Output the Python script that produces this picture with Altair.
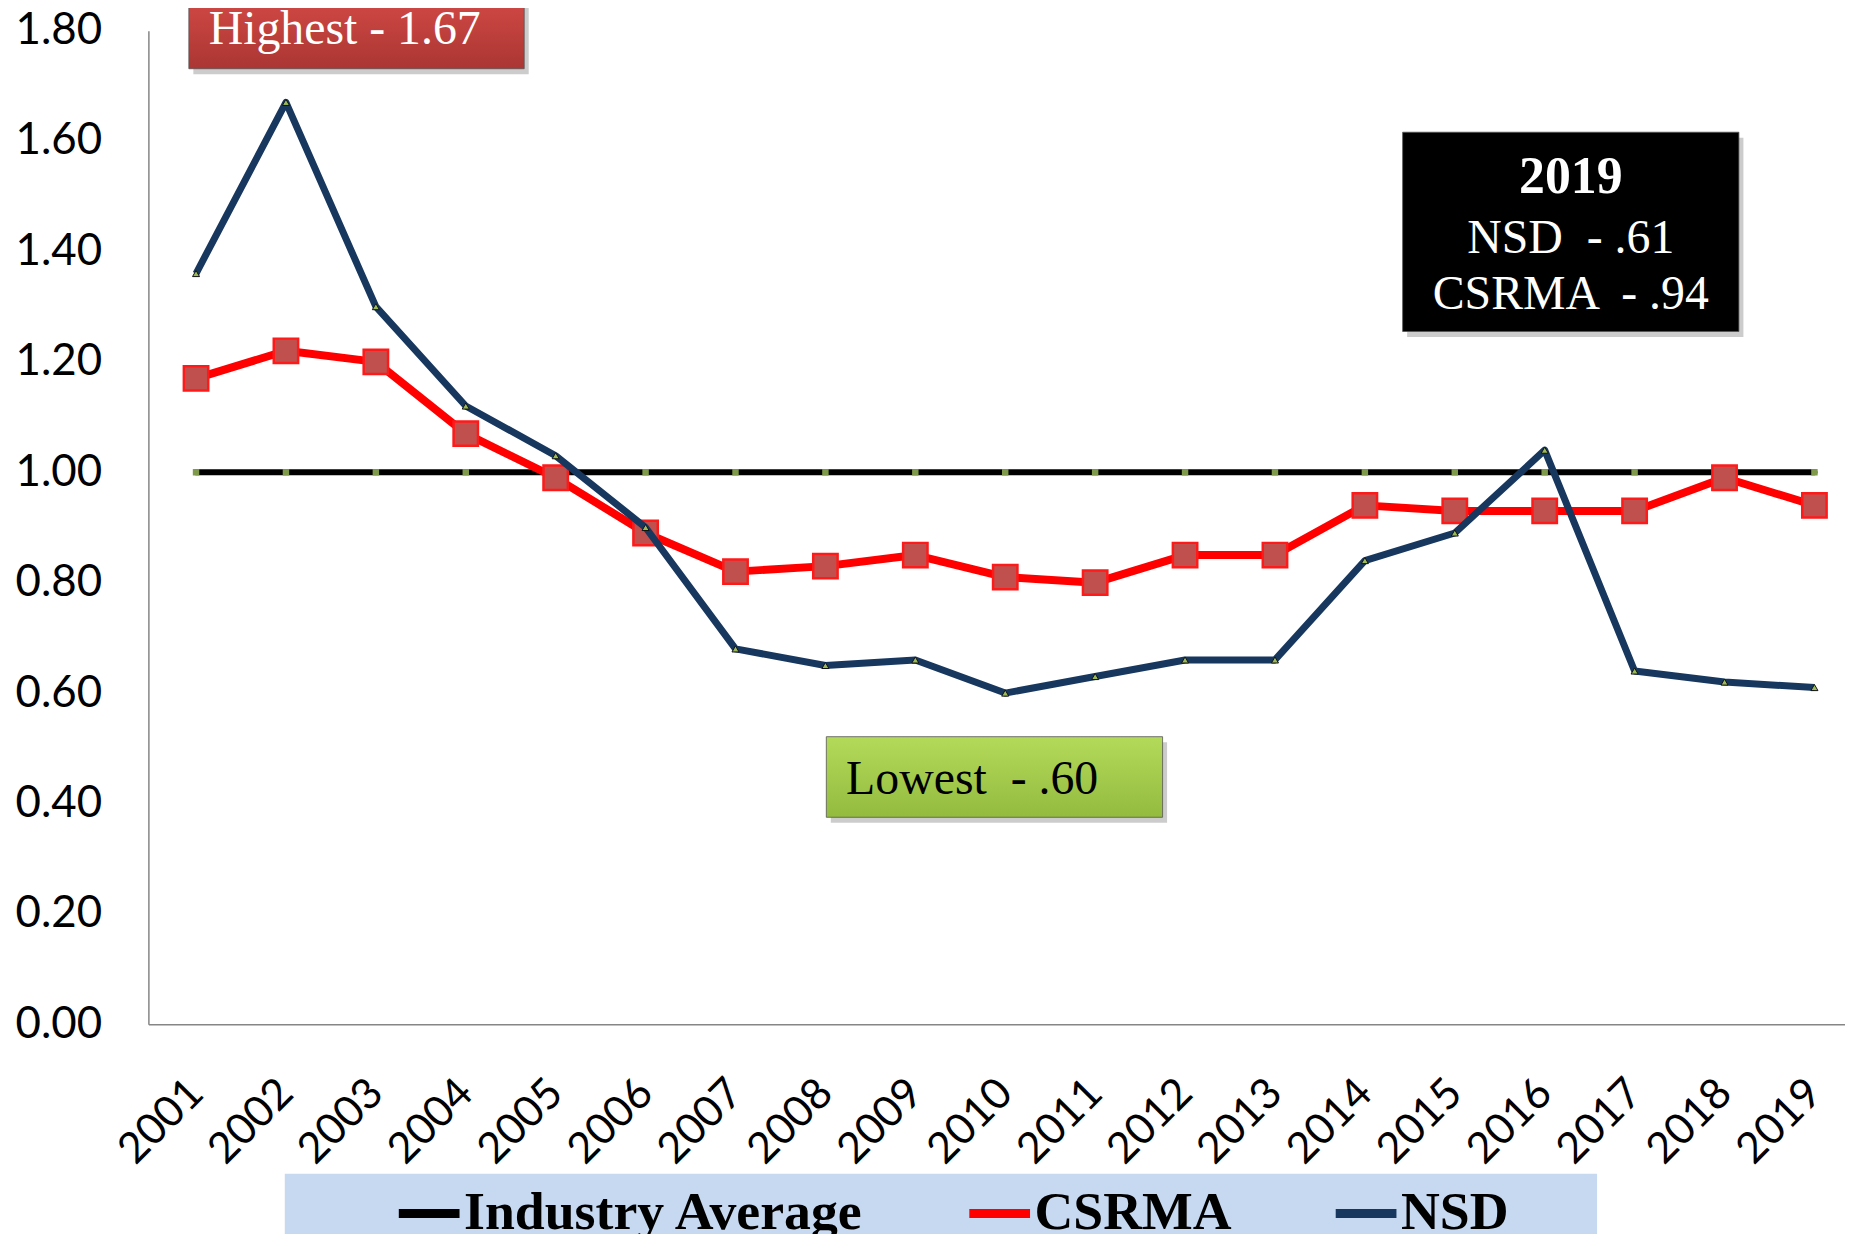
import altair as alt
import pandas as pd

# ---------------- data ----------------
years = [2001, 2002, 2003, 2004, 2005, 2006, 2007, 2008, 2009, 2010,
         2011, 2012, 2013, 2014, 2015, 2016, 2017, 2018, 2019]
industry_avg = [1.00, 1.00, 1.00, 1.00, 1.00, 1.00, 1.00, 1.00, 1.00, 1.00,
                1.00, 1.00, 1.00, 1.00, 1.00, 1.00, 1.00, 1.00, 1.00]
csrma = [1.17, 1.22, 1.20, 1.07, 0.99, 0.89, 0.82, 0.83, 0.85, 0.81,
         0.80, 0.85, 0.85, 0.94, 0.93, 0.93, 0.93, 0.99, 0.94]
nsd = [1.36, 1.67, 1.30, 1.12, 1.03, 0.90, 0.68, 0.65, 0.66, 0.60,
       0.63, 0.66, 0.66, 0.84, 0.89, 1.04, 0.64, 0.62, 0.61]
series_names = ["Industry Average", "CSRMA", "NSD"]
y_ticks = [0.0, 0.2, 0.4, 0.6, 0.8, 1.0, 1.2, 1.4, 1.6, 1.8]

highest_text = ["Highest - 1.67"]
lowest_text = ["Lowest \u00a0- .60"]
box_title = ["2019"]
box_lines = ["NSD \u00a0- .61", "CSRMA \u00a0- .94"]

# ---------------- styles ----------------
series_colors = ["#000000", "#ff0000", "#17375e"]
axis_font = "Lato"
serif = "Liberation Serif"

rows = []
for name, vals in zip(series_names, [industry_avg, csrma, nsd]):
    for yr, v in zip(years, vals):
        rows.append({"year": yr, "value": v, "series": name})
df = pd.DataFrame(rows)

x_enc = alt.X(
    "year:Q",
    scale=alt.Scale(domain=[2000.47, 2019.34], nice=False, zero=False),
    axis=alt.Axis(values=years, format="d", labelAngle=-45, labelAlign="right",
                  labelBaseline="middle", labelFont=axis_font, labelFontSize=43,
                  labelColor="black", labelPadding=62, ticks=False, grid=False,
                  domainColor="#868686", domainWidth=1.5, title=None,
                  labelFlush=False, labelOverlap=False),
)
y_enc = alt.Y(
    "value:Q",
    scale=alt.Scale(domain=[0, 1.8], nice=False, zero=True),
    axis=alt.Axis(values=y_ticks, format=".2f", labelFont=axis_font, labelFontSize=44,
                  labelColor="black", labelPadding=47, ticks=False, grid=False,
                  domainColor="#868686", domainWidth=1.5, title=None,
                  labelFlush=False, labelOverlap=False),
)
legend = alt.Legend(
    orient="none", legendX=247, legendY=1153, direction="horizontal", title=None,
    symbolType="stroke", symbolSize=3721, symbolStrokeWidth=9,
    labelFont=serif, labelFontWeight="bold", labelFontSize=54, labelColor="black",
    labelLimit=900, labelOffset=0, columnPadding=86, padding=0,
)
color_enc = alt.Color("series:N", scale=alt.Scale(domain=series_names, range=series_colors),
                      legend=legend)


def series_chart(name):
    return alt.Chart(df).transform_filter(alt.datum.series == name)


legend_bg = alt.Chart(pd.DataFrame({"k": [0]})).mark_rect(fill="#c6d9f0").encode(
    x=alt.value(137), x2=alt.value(1455), y=alt.value(1148), y2=alt.value(1262)
)

ind_line = series_chart("Industry Average").mark_line(
    strokeWidth=6, strokeCap="round", strokeJoin="round").encode(x=x_enc, y=y_enc, color=color_enc)
ind_pts = series_chart("Industry Average").mark_square(
    size=42, color="#7f9a4a", opacity=1).encode(x=x_enc, y=y_enc)

cs_line = series_chart("CSRMA").mark_line(
    strokeWidth=8, strokeJoin="round").encode(x=x_enc, y=y_enc, color=color_enc)
cs_pts = series_chart("CSRMA").mark_square(
    size=600, fill="#c0504d", stroke="#ff1a1a", strokeWidth=2.5, opacity=1,
    fillOpacity=1).encode(x=x_enc, y=y_enc)

nsd_line = series_chart("NSD").mark_line(
    strokeWidth=7, strokeJoin="round").encode(x=x_enc, y=y_enc, color=color_enc)
nsd_pts = series_chart("NSD").mark_point(
    shape="triangle-up", size=50, filled=True, fill="#9bbb59", stroke="#111111",
    strokeWidth=1, opacity=1).encode(x=x_enc, y=y_enc)


def grad(top, bottom):
    return alt.Gradient(gradient="linear",
                        stops=[alt.GradientStop(color=top, offset=0),
                               alt.GradientStop(color=bottom, offset=1)],
                        x1=0, x2=0, y1=0, y2=1)


def box(x0, x1, y0, y1, fill):
    d = pd.DataFrame({"year": [x0], "year2": [x1], "value": [y0], "value2": [y1]})
    shadow = alt.Chart(d).transform_calculate(
        ys="datum.year + 0.05", ys2="datum.year2 + 0.05",
        vs="datum.value - 0.01", vs2="datum.value2 - 0.01",
    ).mark_rect(fill="#808080", opacity=0.4).encode(
        x="ys:Q", x2="ys2:Q", y="vs:Q", y2="vs2:Q")
    main = alt.Chart(d).mark_rect(fill=fill, stroke="#555555", strokeWidth=0.8).encode(
        x="year:Q", x2="year2", y="value:Q", y2="value2")
    return shadow, main


hi_sh, hi_box = box(2000.92, 2004.65, 1.731, 1.90, grad("#de4f4b", "#aa3633"))
lo_sh, lo_box = box(2008.01, 2011.75, 0.375, 0.521, grad("#b4da5a", "#93bb3e"))
bk_sh, bk_box = box(2014.42, 2018.16, 1.255, 1.616, "#000000")

hi_txt = alt.Chart(pd.DataFrame({"year": [2001.14], "value": [1.776], "t": highest_text})).mark_text(
    font=serif, fontSize=48, align="left", baseline="alphabetic", color="white"
).encode(x="year:Q", y="value:Q", text="t:N")
lo_txt = alt.Chart(pd.DataFrame({"year": [2008.23], "value": [0.418], "t": lowest_text})).mark_text(
    font=serif, fontSize=48, align="left", baseline="alphabetic", color="black"
).encode(x="year:Q", y="value:Q", text="t:N")
bk_title = alt.Chart(pd.DataFrame({"year": [2016.29], "value": [1.506], "t": box_title})).mark_text(
    font=serif, fontSize=52, fontWeight="bold", align="center", baseline="alphabetic", color="white"
).encode(x="year:Q", y="value:Q", text="t:N")
bk_lines = alt.Chart(pd.DataFrame({"year": [2016.29, 2016.29], "value": [1.398, 1.295], "t": box_lines})).mark_text(
    font=serif, fontSize=48, align="center", baseline="alphabetic", color="white"
).encode(x="year:Q", y="value:Q", text="t:N")

chart = alt.layer(
    legend_bg, ind_line, ind_pts, cs_line, cs_pts, nsd_line, nsd_pts,
    hi_sh, hi_box, lo_sh, lo_box, bk_sh, bk_box,
    hi_txt, lo_txt, bk_title, bk_lines,
).properties(
    width=1704, height=998,
    autosize=alt.AutoSizeParams(type="none"),
    padding={"left": 141, "top": 20, "right": 0, "bottom": 236},
    background="white",
).configure_view(stroke=None)

chart.save("out.html", embed_options={"renderer": "svg", "actions": False})
